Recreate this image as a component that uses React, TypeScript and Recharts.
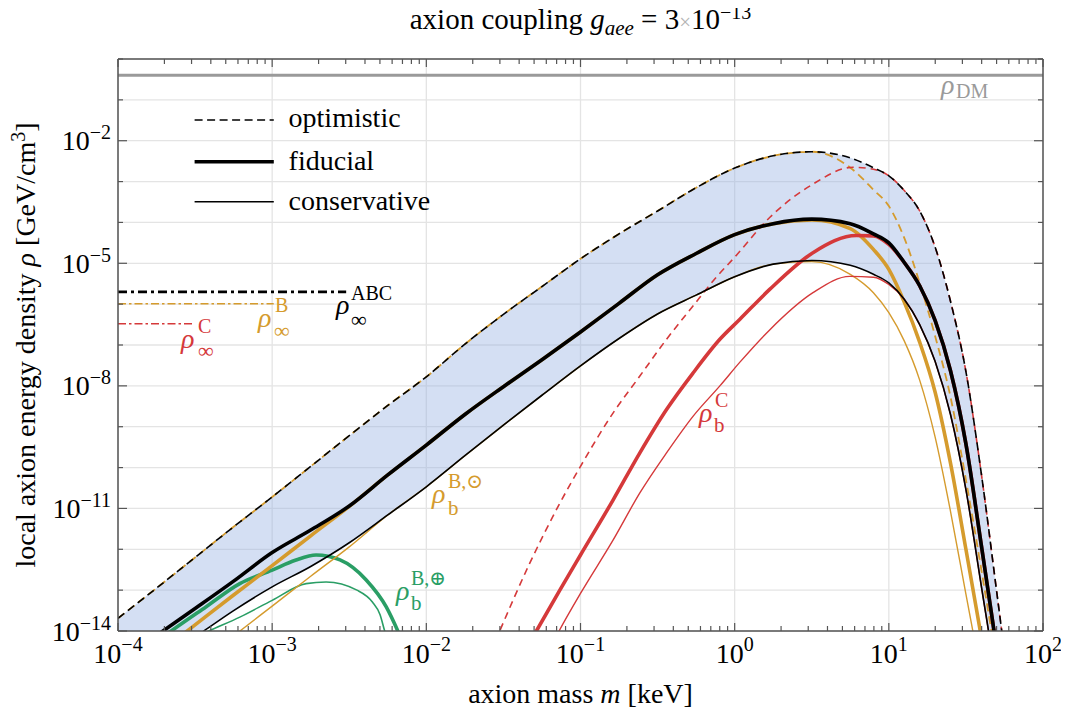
import React from "react"
import {
  ComposedChart,
  Line,
  Area,
  XAxis,
  YAxis,
  CartesianGrid,
  ReferenceDot,
  Legend,
} from "recharts"

const FONT = '"Liberation Serif", "DejaVu Serif", serif'
const GOLD = "#d59b2d"
const RED = "#d5393a"
const GREEN = "#2a9e65"
const GRAY = "#9a9a9a"
const FRAME = "#555555"

// all values are log10: x = log10(m / keV), y = log10(rho / (GeV/cm^3))
const massGrid = [
  -4, -3.75, -3.5, -3.25, -3, -2.75, -2.5, -2.25, -2, -1.75, -1.5, -1.25, -1, -0.75, -0.5,
  -0.25, 0, 0.25, 0.5, 0.75, 0.9, 1, 1.1, 1.2, 1.3, 1.4, 1.5, 1.6, 1.7, 1.8,
]

const optimistic = [
  -13.69, -12.95, -12.2, -11.45, -10.72, -9.97, -9.22, -8.48, -7.78, -6.98, -6.25, -5.57, -4.89,
  -4.28, -3.72, -3.15, -2.67, -2.37, -2.27, -2.42, -2.66, -2.86, -3.22, -3.72, -4.6, -5.93, -7.65,
  -10.15, -13.05, -16.0,
]
const fiducial = [
  -14.78, -14.11, -13.45, -12.78, -12.08, -11.53, -10.94, -10.18, -9.45, -8.7, -8.02, -7.36, -6.68,
  -5.98, -5.28, -4.76, -4.3, -4.03, -3.92, -4.03, -4.28, -4.5, -4.98, -5.55, -6.4, -7.63, -9.42,
  -11.9, -14.45, -17.0,
]
const conservative = [
  -15.5, -14.8, -14.15, -13.5, -12.92, -12.42, -11.84, -11.16, -10.47, -9.71, -8.96, -8.23, -7.51,
  -6.84, -6.24, -5.78, -5.33, -5.02, -4.93, -5.05, -5.27, -5.48, -5.88, -6.5, -7.4, -8.7, -10.54,
  -12.9, -15.3, -18.0,
]

// component B (gold), same grid
const bOptimistic = [
  -13.69, -12.95, -12.2, -11.45, -10.72, -9.97, -9.22, -8.48, -7.78, -6.98, -6.25, -5.57, -4.89,
  -4.28, -3.72, -3.15, -2.67, -2.37, -2.27, -2.66, -3.2, -3.6, -4.38, -5.48, -6.78, -8.27, -10.3,
  -12.5, -14.8, -17.2,
]
const bFiducial = [
  -15.3, -14.58, -13.85, -13.12, -12.4, -11.67, -10.95, -10.18, -9.45, -8.7, -8.02, -7.36, -6.68,
  -5.98, -5.28, -4.76, -4.3, -4.03, -3.94, -4.15, -4.66, -5.15, -5.95, -6.93, -8.15, -9.89, -12.0,
  -14.15, -16.3, -18.5,
]
const bConservative = [
  -16.3, -15.57, -14.84, -14.12, -13.39, -12.66, -11.94, -11.16, -10.47, -9.71, -8.96, -8.23,
  -7.51, -6.84, -6.24, -5.78, -5.33, -5.02, -4.96, -5.27, -5.72, -6.21, -6.9, -7.86, -9.25, -11.07,
  -13.1, -15.1, -17.1, -19.1,
]

// component C (red), [x, y]
const cOptimistic = [
  [-1.7, -15.6], [-1.524, -14], [-1.329, -12.34], [-1.145, -10.95], [-1, -9.97], [-0.788, -8.66],
  [-0.615, -7.76], [-0.442, -6.86], [-0.269, -6.04], [-0.128, -5.38], [0, -4.85], [0.227, -3.88],
  [0.5, -3.08], [0.768, -2.65], [0.9, -2.7], [1, -2.86], [1.1, -3.22], [1.2, -3.72], [1.3, -4.6],
  [1.4, -5.93], [1.5, -7.65], [1.6, -10.15], [1.7, -13.05], [1.8, -16],
]
const cFiducial = [
  [-1.45, -15.1], [-1.286, -14], [-1.134, -13.0], [-1, -12.14], [-0.788, -10.79], [-0.615, -9.64],
  [-0.442, -8.58], [-0.269, -7.68], [-0.096, -6.86], [0.034, -6.37], [0.227, -5.64], [0.508, -4.74],
  [0.79, -4.32], [0.9, -4.33], [1, -4.54], [1.1, -4.98], [1.2, -5.55], [1.3, -6.4], [1.4, -7.63],
  [1.5, -9.42], [1.6, -11.9], [1.7, -14.45], [1.8, -17],
]
const cConservative = [
  [-1.3, -15.2], [-1.139, -14], [-1, -13.08], [-0.788, -11.77], [-0.615, -10.62], [-0.442, -9.64],
  [-0.269, -8.74], [-0.096, -8.0], [0.034, -7.42], [0.227, -6.63], [0.508, -5.72], [0.746, -5.32],
  [0.9, -5.34], [1, -5.52], [1.1, -5.88], [1.2, -6.5], [1.3, -7.4], [1.4, -8.7], [1.5, -10.54],
  [1.6, -12.9], [1.7, -15.3], [1.8, -18],
]

// earth-bound B (green)
const earthFiducial = [
  [-3.8, -14.4], [-3.655, -14], [-3.43, -13.41], [-3.21, -12.84], [-3, -12.51], [-2.85, -12.27],
  [-2.715, -12.14], [-2.56, -12.26], [-2.39, -12.75], [-2.26, -13.41], [-2.185, -14], [-2.13, -14.5],
]
const earthConservative = [
  [-3.55, -14.25], [-3.41, -14], [-3.21, -13.66], [-3, -13.25], [-2.78, -12.84], [-2.65, -12.8],
  [-2.45, -13.0], [-2.35, -13.29], [-2.3, -13.6], [-2.27, -14], [-2.22, -14.5],
]

// asymptotic densities
const rhoInfABC = [[-4, -5.7], [-2.52, -5.7]]
const rhoInfB = [[-4, -5.99], [-2.99, -5.99]]
const rhoInfC = [[-4, -6.48], [-3.515, -6.48]]
const rhoDM = [[-4, -0.398], [2, -0.398]]

// ticks
const xDecades = [-4, -3, -2, -1, 0, 1, 2]
const minorFactors = [2, 3, 4, 5, 6, 7, 8, 9]
const xTicks = [
  ...xDecades,
  ...xDecades.slice(0, -1).flatMap((d) => minorFactors.map((k) => d + Math.log10(k))),
]
const yDecades = [-14, -13, -12, -11, -10, -9, -8, -7, -6, -5, -4, -3, -2, -1, 0]
const yLabeled = [-14, -11, -8, -5, -2]

const mainRows = massGrid.map((x, i) => ({
  x,
  opt: optimistic[i],
  fid: fiducial[i],
  cons: conservative[i],
  band: [conservative[i], optimistic[i]],
  bOpt: bOptimistic[i],
  bFid: bFiducial[i],
  bCons: bConservative[i],
}))

const toRows = (pts: number[][]) => pts.map(([x, y]) => ({ x, y }))

const isDecade = (v: number) => Math.abs(v - Math.round(v)) < 1e-6
const fmtExp = (v: number) => {
  const n = Math.round(v)
  return n < 0 ? "\u2212" + Math.abs(n) : String(n)
}

function BottomTick({ x, y, payload }: any) {
  const v = payload.value
  const major = isDecade(v)
  return (
    <g>
      <line x1={x} x2={x} y1={y} y2={y - (major ? 8 : 5)} stroke={FRAME} strokeWidth={1.2} />
      {major && (
        <text x={x} y={y + 32} textAnchor="middle" fontFamily={FONT} fontSize={28} fill="#000">
          10
          <tspan dy={-12} fontSize={20}>
            {fmtExp(v)}
          </tspan>
        </text>
      )}
    </g>
  )
}

function TopTick({ x, y, payload }: any) {
  const major = isDecade(payload.value)
  return <line x1={x} x2={x} y1={y} y2={y + (major ? 8 : 5)} stroke={FRAME} strokeWidth={1.2} />
}

function LeftTick({ x, y, payload }: any) {
  const v = Math.round(payload.value)
  const labeled = yLabeled.includes(v)
  return (
    <g>
      <line x1={x} x2={x + (labeled ? 9 : 5)} y1={y} y2={y} stroke={FRAME} strokeWidth={1.2} />
      {labeled && (
        <text x={x - 7} y={y + 9.5} textAnchor="end" fontFamily={FONT} fontSize={28} fill="#000">
          10
          <tspan dy={-11} fontSize={20}>
            {fmtExp(v)}
          </tspan>
        </text>
      )}
    </g>
  )
}

function RightTick({ x, y, payload }: any) {
  const labeled = yLabeled.includes(Math.round(payload.value))
  return <line x1={x} x2={x - (labeled ? 9 : 5)} y1={y} y2={y} stroke={FRAME} strokeWidth={1.2} />
}

function TitleLabel(props: any) {
  const vb = props.viewBox ?? { x: 110, y: 0, width: 925, height: 59 }
  return (
    <text x={vb.x + vb.width / 2} y={29} textAnchor="middle" fontFamily={FONT} fontSize={29} fill="#000">
      axion coupling{" "}
      <tspan fontStyle="italic">g</tspan>
      <tspan fontStyle="italic" fontSize={21} dy={6}>
        aee
      </tspan>
      <tspan dy={-6}> = 3</tspan>
      <tspan fill="#b5b5b5" fontSize={21}>
        ×
      </tspan>
      <tspan>10</tspan>
      <tspan dy={-10} fontSize={20}>
        −13
      </tspan>
    </text>
  )
}

function XLabel(props: any) {
  const vb = props.viewBox ?? { x: 110, y: 631, width: 925, height: 82 }
  return (
    <text x={vb.x + vb.width / 2} y={vb.y + 72} textAnchor="middle" fontFamily={FONT} fontSize={28} fill="#000">
      axion mass <tspan fontStyle="italic">m</tspan> [keV]
    </text>
  )
}

function YLabel(props: any) {
  const vb = props.viewBox ?? { x: 0, y: 59, width: 110, height: 572 }
  const cy = vb.y + vb.height / 2
  return (
    <text
      transform={`translate(${vb.x + 27},${cy}) rotate(-90)`}
      textAnchor="middle"
      fontFamily={FONT}
      fontSize={28}
      fill="#000"
    >
      local axion energy density <tspan fontStyle="italic">ρ</tspan> [GeV/cm
      <tspan dy={-10} fontSize={20}>
        3
      </tspan>
      <tspan dy={10}>]</tspan>
    </text>
  )
}

// annotation labels: anchor is the baseline-left of the rho, in data coordinates
const notes = [
  { x: -2.586, y: -6.233, color: "#000", sub: "∞", sup: "ABC", sdx: 15, sdy: 13, pdx: 15, pdy: -14, subSize: 22 },
  { x: -3.092, y: -6.55, color: GOLD, sub: "∞", sup: "B", sdx: 16, sdy: 11, pdx: 17, pdy: -15, subSize: 22 },
  { x: -3.591, y: -7.065, color: RED, sub: "∞", sup: "C", sdx: 17, sdy: 10, pdx: 17, pdy: -15, subSize: 22 },
  { x: -1.963, y: -10.86, color: GOLD, sub: "b", sup: "B,⊙", sdx: 16, sdy: 12, pdx: 16, pdy: -15, subSize: 21 },
  { x: -2.197, y: -13.23, color: GREEN, sub: "b", sup: "B,⊕", sdx: 15, sdy: 10, pdx: 15, pdy: -15, subSize: 21 },
  { x: -0.231, y: -8.88, color: RED, sub: "b", sup: "C", sdx: 15, sdy: 10, pdx: 16, pdy: -15, subSize: 21 },
  { x: 1.338, y: -0.849, color: GRAY, sub: "DM", sup: "", sdx: 15, sdy: 4, pdx: 0, pdy: 0, subSize: 20 },
]

function MathNote({ cx, cy, note }: any) {
  if (cx == null || cy == null) return null
  return (
    <g fontFamily={FONT} fill={note.color}>
      <text x={cx} y={cy} fontSize={28} fontStyle="italic" fill={note.color}>
        ρ
      </text>
      <text x={cx + note.sdx} y={cy + note.sdy} fontSize={note.subSize} fill={note.color}>
        {note.sub}
      </text>
      {note.sup && (
        <text x={cx + note.pdx} y={cy + note.pdy} fontSize={20} fill={note.color}>
          {note.sup}
        </text>
      )}
    </g>
  )
}

function LegendBox() {
  const rows = [
    { label: "optimistic", w: 1.6, dash: "8 4.5", y: 17, ty: 24 },
    { label: "fiducial", w: 3.6, dash: undefined, y: 58.7, ty: 67 },
    { label: "conservative", w: 1.6, dash: undefined, y: 98.7, ty: 107 },
  ]
  return (
    <svg width={300} height={120}>
      {rows.map((r) => (
        <g key={r.label}>
          <line x1={0.6} x2={79.8} y1={r.y} y2={r.y} stroke="#000" strokeWidth={r.w} strokeDasharray={r.dash} />
          <text x={94.6} y={r.ty} fontFamily={FONT} fontSize={28} fill="#000">
            {r.label}
          </text>
        </g>
      ))}
    </svg>
  )
}

const ax = { xAxisId: "b", yAxisId: "l" }

export default function App() {
  return (
    <div style={{ marginTop: -8 }}>
      <ComposedChart width={1053} height={713} margin={{ top: 0, right: 0, bottom: 0, left: 0 }}>
        <XAxis
          xAxisId="g"
          dataKey="x"
          type="number"
          domain={[-4, 2]}
          allowDataOverflow
          ticks={xDecades}
          hide
        />
        <CartesianGrid xAxisId="g" yAxisId="l" stroke="#e4e4e4" strokeWidth={1.3} />
        <XAxis
          xAxisId="b"
          dataKey="x"
          type="number"
          orientation="bottom"
          domain={[-4, 2]}
          allowDataOverflow
          ticks={xTicks}
          interval={0}
          height={82}
          tickSize={0}
          tickMargin={0}
          tickLine={false}
          axisLine={{ stroke: FRAME, strokeWidth: 1.5 }}
          tick={<BottomTick />}
          label={(p: any) => <XLabel {...p} />}
        />
        <XAxis
          xAxisId="t"
          dataKey="x"
          type="number"
          orientation="top"
          domain={[-4, 2]}
          allowDataOverflow
          ticks={xTicks}
          interval={0}
          height={59}
          tickSize={0}
          tickMargin={0}
          tickLine={false}
          axisLine={{ stroke: FRAME, strokeWidth: 1.5 }}
          tick={<TopTick />}
          label={(p: any) => <TitleLabel {...p} />}
        />
        <YAxis
          yAxisId="l"
          type="number"
          domain={[-14, 0]}
          allowDataOverflow
          ticks={yDecades}
          interval={0}
          width={110}
          tickSize={0}
          tickMargin={0}
          tickLine={false}
          axisLine={{ stroke: FRAME, strokeWidth: 1.5 }}
          tick={<LeftTick />}
          label={(p: any) => <YLabel {...p} />}
        />
        <YAxis
          yAxisId="r"
          orientation="right"
          type="number"
          domain={[-14, 0]}
          allowDataOverflow
          ticks={yDecades}
          interval={0}
          width={18}
          tickSize={0}
          tickMargin={0}
          tickLine={false}
          axisLine={{ stroke: FRAME, strokeWidth: 1.5 }}
          tick={<RightTick />}
        />

        <Area
          {...ax}
          data={mainRows}
          dataKey="band"
          type="monotone"
          stroke="none"
          fill="#94b0e0"
          fillOpacity={0.4}
          isAnimationActive={false}
          activeDot={false}
        />

        <Line {...ax} data={toRows(rhoDM)} dataKey="y" stroke={GRAY} strokeWidth={3} dot={false} activeDot={false} isAnimationActive={false} />
        <Line {...ax} data={toRows(rhoInfC)} dataKey="y" stroke={RED} strokeWidth={1.6} strokeDasharray="8 3 2.5 3" dot={false} activeDot={false} isAnimationActive={false} />
        <Line {...ax} data={toRows(rhoInfB)} dataKey="y" stroke={GOLD} strokeWidth={1.6} strokeDasharray="8 3 2.5 3" dot={false} activeDot={false} isAnimationActive={false} />
        <Line {...ax} data={toRows(rhoInfABC)} dataKey="y" stroke="#000" strokeWidth={2.6} strokeDasharray="9 4 3 4" dot={false} activeDot={false} isAnimationActive={false} />

        <Line {...ax} data={toRows(earthConservative)} dataKey="y" type="monotone" stroke={GREEN} strokeWidth={1.6} dot={false} activeDot={false} isAnimationActive={false} />
        <Line {...ax} data={toRows(earthFiducial)} dataKey="y" type="monotone" stroke={GREEN} strokeWidth={3.6} dot={false} activeDot={false} isAnimationActive={false} />

        <Line {...ax} data={mainRows} dataKey="bCons" type="monotone" stroke={GOLD} strokeWidth={1.4} dot={false} activeDot={false} isAnimationActive={false} />
        <Line {...ax} data={mainRows} dataKey="bFid" type="monotone" stroke={GOLD} strokeWidth={3.6} dot={false} activeDot={false} isAnimationActive={false} />
        <Line {...ax} data={mainRows} dataKey="bOpt" type="monotone" stroke={GOLD} strokeWidth={1.8} strokeDasharray="8 5" dot={false} activeDot={false} isAnimationActive={false} />

        <Line {...ax} data={toRows(cConservative)} dataKey="y" type="monotone" stroke={RED} strokeWidth={1.4} dot={false} activeDot={false} isAnimationActive={false} />
        <Line {...ax} data={toRows(cFiducial)} dataKey="y" type="monotone" stroke={RED} strokeWidth={3.6} dot={false} activeDot={false} isAnimationActive={false} />
        <Line {...ax} data={toRows(cOptimistic)} dataKey="y" type="monotone" stroke={RED} strokeWidth={1.6} strokeDasharray="7 5" dot={false} activeDot={false} isAnimationActive={false} />

        <Line {...ax} data={mainRows} dataKey="cons" type="monotone" stroke="#000" strokeWidth={1.6} dot={false} activeDot={false} isAnimationActive={false} />
        <Line {...ax} data={mainRows} dataKey="fid" type="monotone" stroke="#000" strokeWidth={3.6} dot={false} activeDot={false} isAnimationActive={false} />
        <Line {...ax} data={mainRows} dataKey="opt" type="monotone" stroke="#000" strokeWidth={1.6} strokeDasharray="8 4.5" dot={false} activeDot={false} isAnimationActive={false} />

        {notes.map((n, i) => (
          <ReferenceDot
            key={i}
            {...ax}
            x={n.x}
            y={n.y}
            r={0}
            shape={(p: any) => <MathNote cx={p.cx} cy={p.cy} note={n} />}
          />
        ))}

        <Legend
          layout="horizontal"
          verticalAlign="middle"
          align="center"
          content={() => <LegendBox />}
          wrapperStyle={{ position: "absolute", left: 186, top: 103, width: 300, height: 120 }}
        />
      </ComposedChart>
    </div>
  )
}
